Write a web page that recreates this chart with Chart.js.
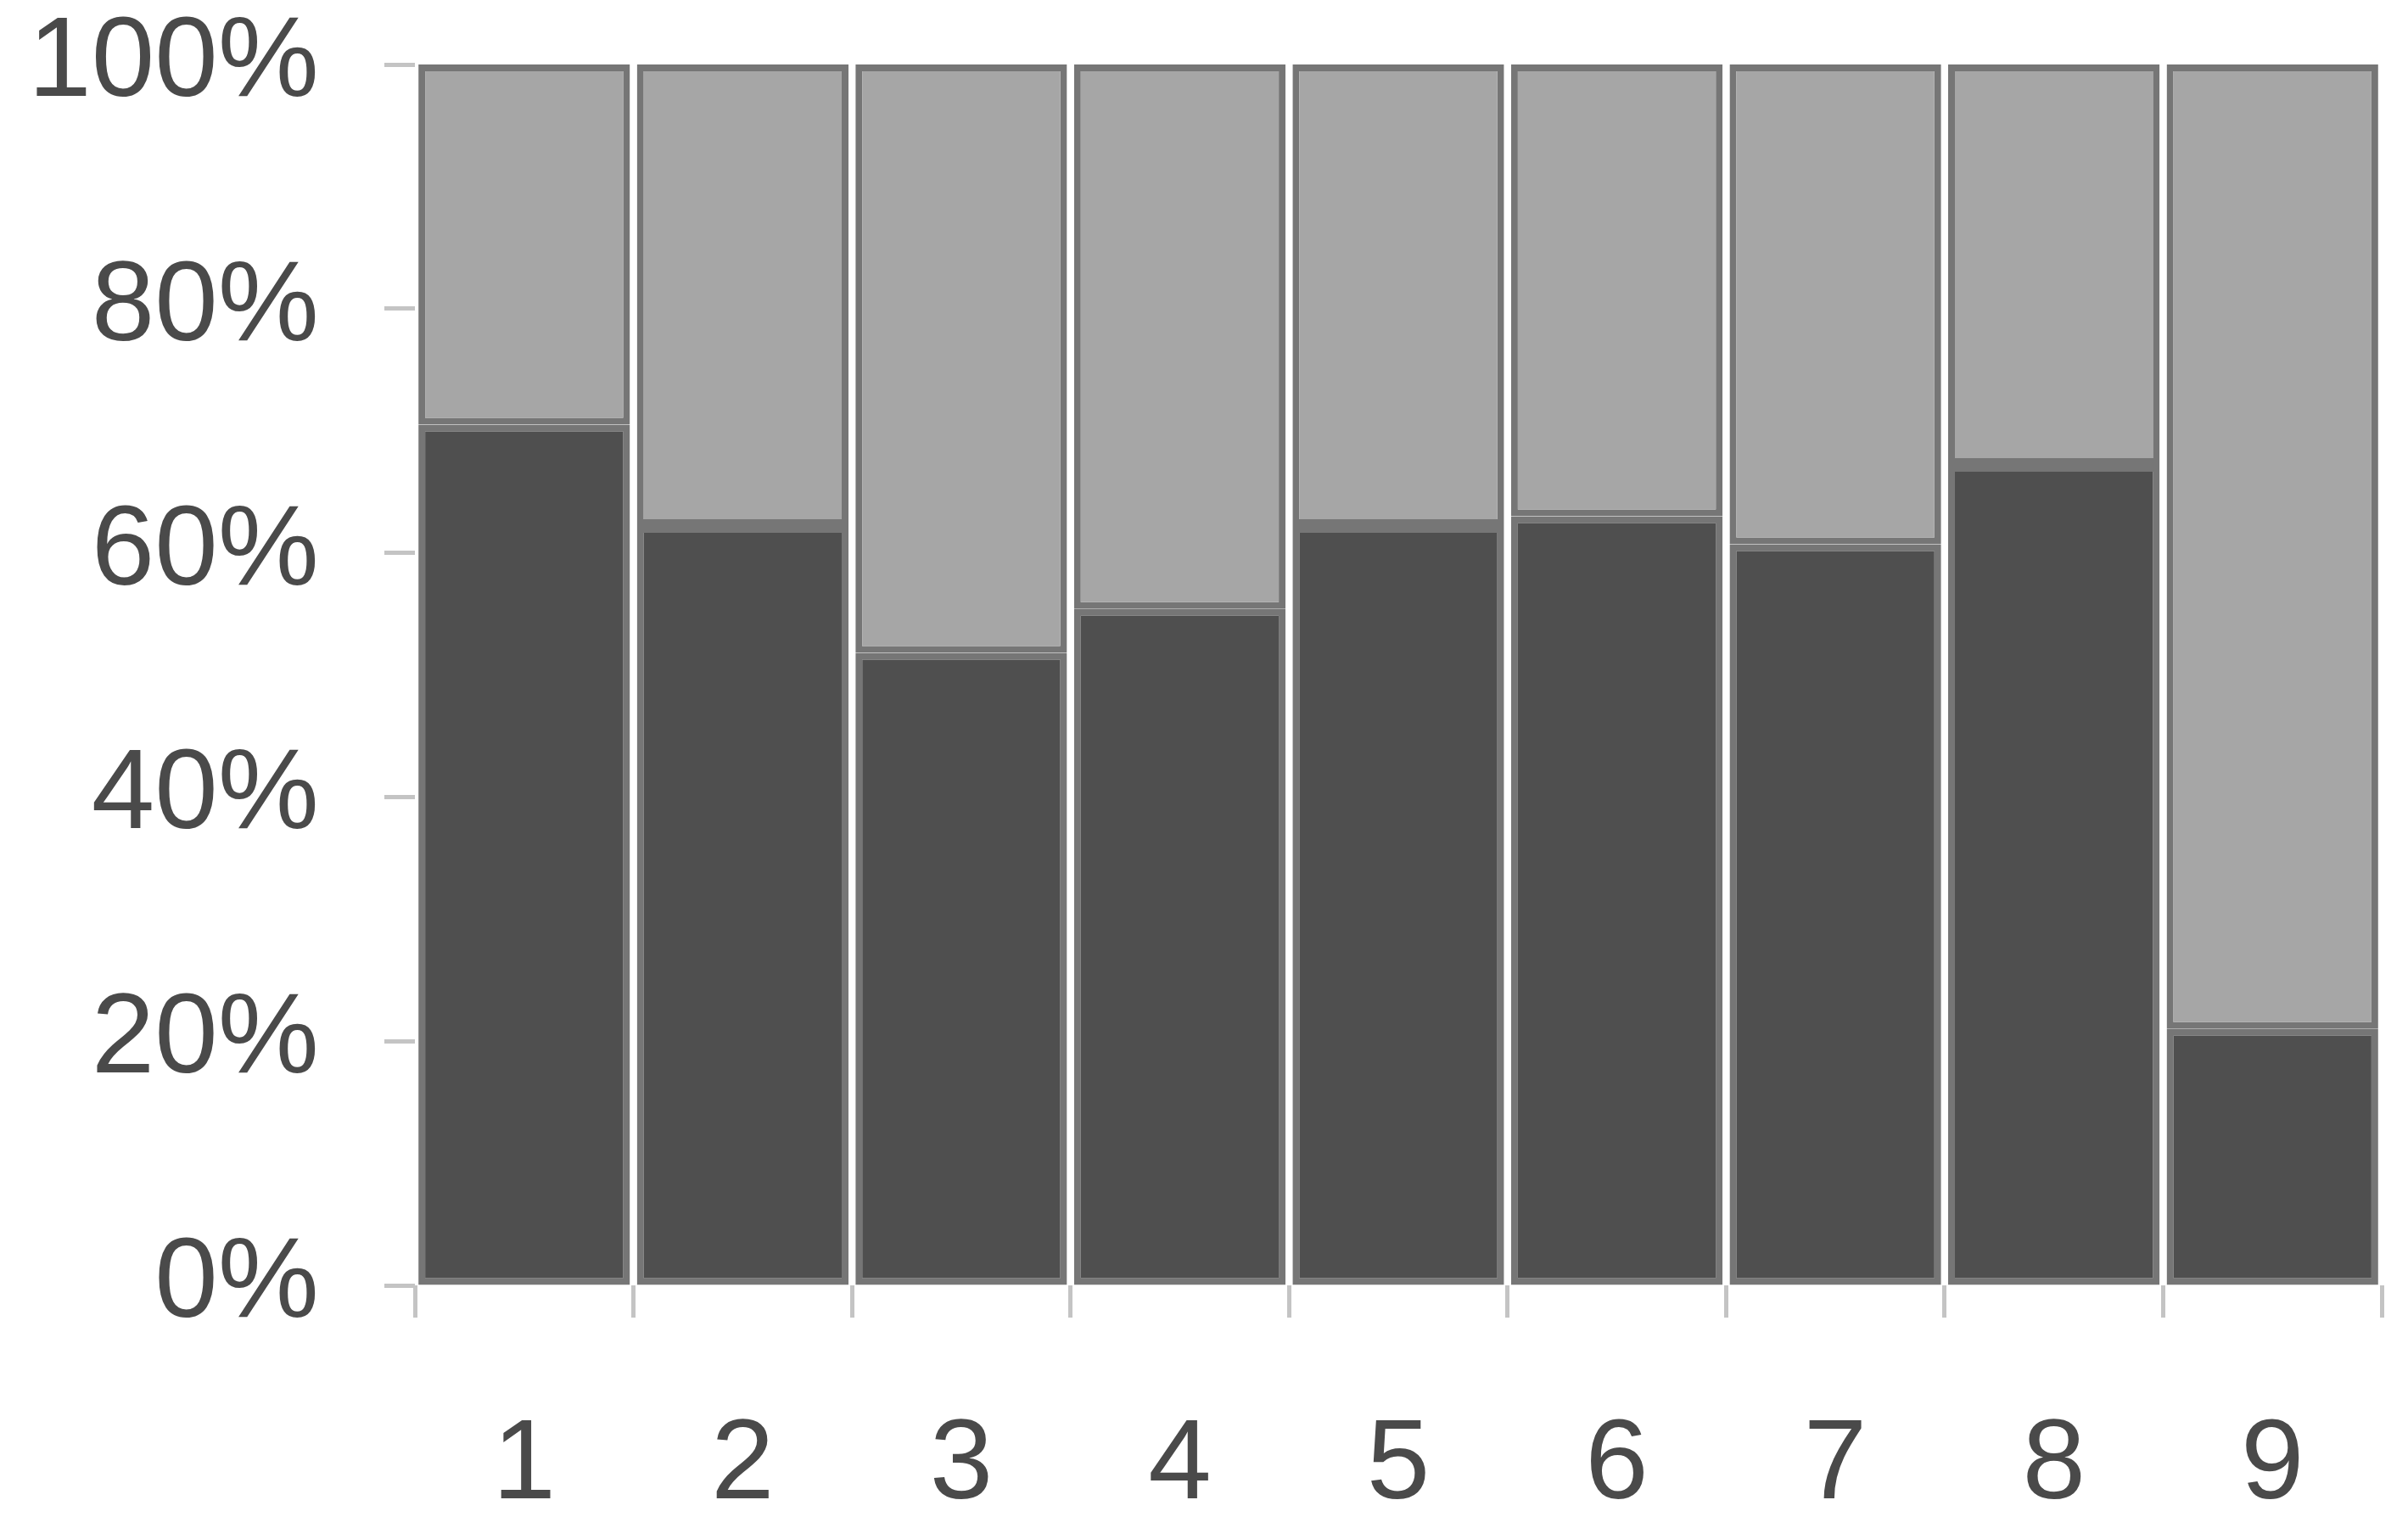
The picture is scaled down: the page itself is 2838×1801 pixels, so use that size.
<!DOCTYPE html>
<html>
<head>
<meta charset="utf-8">
<script src="https://cdn.jsdelivr.net/npm/chart.js@4/dist/chart.umd.min.js"></script>
<style>
  html, body { margin: 0; padding: 0; background: #fff; }
  #wrap { width: 2838px; height: 1801px; }
</style>
</head>
<body>
<div id="wrap"><canvas id="shareChart" width="2838" height="1801"></canvas></div>
<script>
        // Data
        const categories = ['1', '2', '3', '4', '5', '6', '7', '8', '9'];
        const lowerShare = [70.5, 62.2, 51.8, 55.4, 62.2, 63.0, 60.7, 67.2, 21.0];
        const upperShare = [29.5, 37.8, 48.2, 44.6, 37.8, 37.0, 39.3, 32.8, 79.0];
        const yTicks = [0, 20, 40, 60, 80, 100];

        const labelFont = { family: "'Liberation Sans', Arial, sans-serif", size: 134 };

        const ctx = document.getElementById('shareChart').getContext('2d');
        new Chart(ctx, {
            type: 'bar',
            data: {
                labels: categories,
                datasets: [{
                    data: lowerShare,
                    backgroundColor: '#4f4f4f',
                    borderColor: '#767676',
                    borderWidth: 8,
                    borderSkipped: false
                }, {
                    data: upperShare,
                    backgroundColor: '#a6a6a6',
                    borderColor: '#767676',
                    borderWidth: 8,
                    borderSkipped: false
                }]
            },
            options: {
                responsive: false,
                animation: false,
                layout: {
                    padding: { top: 76, right: 31, bottom: 0, left: 0 }
                },
                datasets: {
                    bar: {
                        barPercentage: 0.968,
                        categoryPercentage: 1
                    }
                },
                plugins: {
                    legend: { display: false },
                    tooltip: { enabled: false }
                },
                scales: {
                    x: {
                        stacked: true,
                        border: { display: false },
                        grid: {
                            drawOnChartArea: false,
                            tickLength: 38,
                            tickColor: '#c4c4c4',
                            tickWidth: 5
                        },
                        ticks: {
                            color: '#4a4a4a',
                            font: labelFont,
                            padding: 96
                        },
                        afterFit: scale => { scale.height = 286; }
                    },
                    y: {
                        stacked: true,
                        min: 0,
                        max: 100,
                        border: { display: false },
                        grid: {
                            drawOnChartArea: false,
                            tickLength: 36,
                            tickColor: '#c4c4c4',
                            tickWidth: 5
                        },
                        afterBuildTicks: scale => {
                            scale.ticks = yTicks.map(v => ({ value: v }));
                        },
                        ticks: {
                            color: '#4a4a4a',
                            font: labelFont,
                            padding: 77,
                            callback: v => v + '%'
                        },
                        afterFit: scale => {
                            scale.width = 489;
                            scale.paddingTop = 0;
                            scale.paddingBottom = 0;
                        }
                    }
                }
            }
        });
</script>
</body>
</html>
